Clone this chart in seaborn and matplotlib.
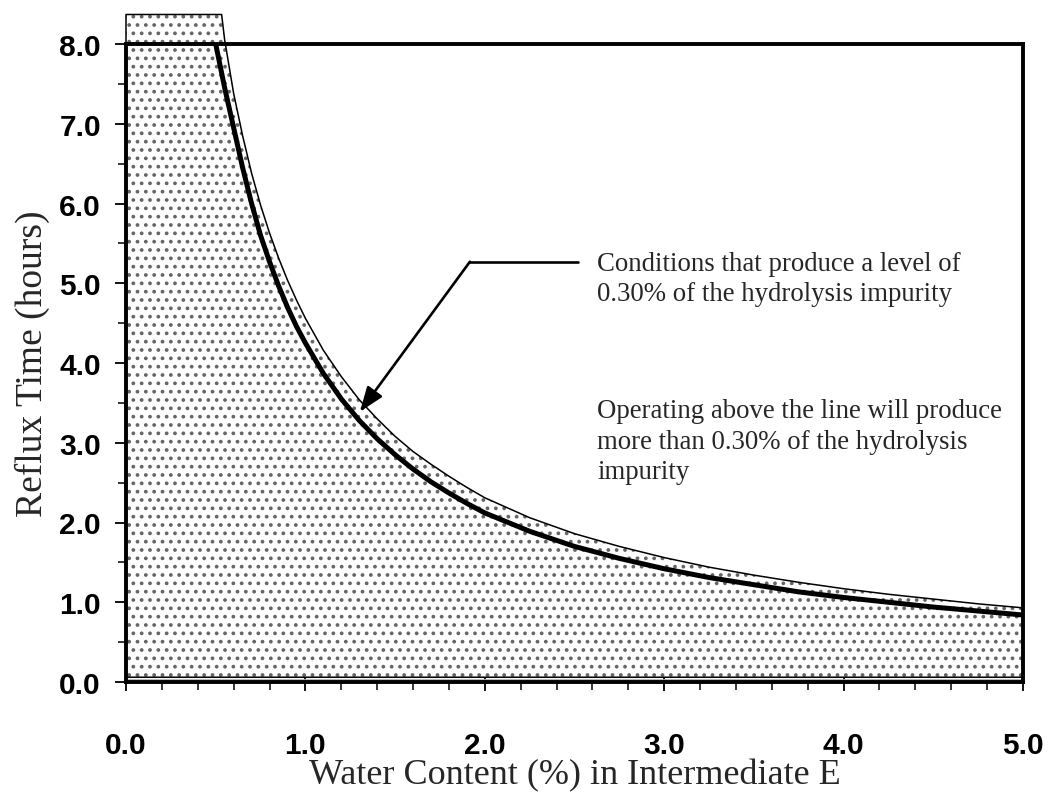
import numpy as np
import pandas as pd
import matplotlib
matplotlib.use("Agg")
import matplotlib.pyplot as plt
import seaborn as sns
from matplotlib.ticker import MultipleLocator, FormatStrFormatter

# ---- data ----
water_thick = [0.50, 0.55, 0.60, 0.65, 0.70, 0.75, 0.80, 0.85, 0.90, 0.95, 1.00,
               1.10, 1.20, 1.30, 1.40, 1.50, 1.60, 1.70, 1.80, 1.90, 2.00,
               2.25, 2.50, 2.75, 3.00, 3.25, 3.50, 3.75, 4.00, 4.25, 4.50, 4.75, 5.00]
time_thick = [8.00, 7.45, 6.95, 6.45, 6.00, 5.60, 5.27, 4.97, 4.70, 4.46, 4.25,
              3.87, 3.55, 3.28, 3.05, 2.85, 2.67, 2.51, 2.37, 2.24, 2.12,
              1.89, 1.70, 1.55, 1.42, 1.31, 1.22, 1.13, 1.06, 1.00, 0.94, 0.89, 0.84]

water_thin = [0.533, 0.55, 0.60, 0.65, 0.70, 0.75, 0.80, 0.85, 0.90, 0.95, 1.00,
              1.10, 1.20, 1.30, 1.40, 1.50, 1.60, 1.70, 1.80, 1.90, 2.00,
              2.25, 2.50, 2.75, 3.00, 3.25, 3.50, 3.75, 4.00, 4.25, 4.50, 4.75, 5.00]
time_thin = [8.37, 8.05, 7.38, 6.85, 6.38, 5.98, 5.63, 5.32, 5.04, 4.79, 4.56,
             4.16, 3.83, 3.54, 3.30, 3.08, 2.89, 2.73, 2.58, 2.44, 2.31,
             2.06, 1.86, 1.70, 1.56, 1.44, 1.34, 1.25, 1.17, 1.10, 1.04, 0.98, 0.93]

region_left_x = 0.0
region_top_y = 8.37
region_bottom_y = 0.06

x_ticks = [0.0, 1.0, 2.0, 3.0, 4.0, 5.0]
y_ticks = [0.0, 1.0, 2.0, 3.0, 4.0, 5.0, 6.0, 7.0, 8.0]

label_text_1 = "Conditions that produce a level of\n0.30% of the hydrolysis impurity"
label_text_2 = "Operating above the line will produce\nmore than 0.30% of the hydrolysis\nimpurity"
arrow_path_x = [2.52, 1.917]
arrow_path_y = [5.27, 5.27]
arrow_tip = (1.304, 3.39)

# ---- styling ----
sns.set_style("ticks")
plt.rcParams['font.family'] = ['Liberation Sans', 'DejaVu Sans']
plt.rcParams['hatch.linewidth'] = 1.5

fig = plt.figure(figsize=(10.48, 8.03), dpi=100)
ax = fig.add_axes([126 / 1048, (803 - 683) / 803, (1023 - 126) / 1048, (683 - 45) / 803])

# shaded (dotted) region
poly_x = [region_left_x, region_left_x] + water_thin + [water_thin[-1]]
poly_y = [region_bottom_y, region_top_y] + time_thin + [region_bottom_y]
ax.fill(poly_x, poly_y, facecolor='white', edgecolor='#666666', hatch='..',
        linewidth=0, clip_on=False, zorder=1)
ax.plot(poly_x + [poly_x[0]], poly_y + [poly_y[0]], color='black', lw=1.1,
        clip_on=False, zorder=2)
ax.axhline(0.03, color='#b0b0b0', lw=2.0, zorder=2)

# main thick curve
df = pd.DataFrame({'water': water_thick, 'time': time_thick})
sns.lineplot(data=df, x='water', y='time', ax=ax, color='black', lw=3.6,
             sort=False, estimator=None, zorder=3)

# annotation arrow
ax.plot(arrow_path_x, arrow_path_y, color='black', lw=1.9, zorder=4)
ax.annotate('', xy=arrow_tip, xytext=(arrow_path_x[-1], arrow_path_y[-1]),
            arrowprops=dict(arrowstyle='-|>,head_length=0.75,head_width=0.28',
                            mutation_scale=20, lw=1.9, color='black',
                            shrinkA=0, shrinkB=0),
            zorder=4)

serif = ['Liberation Serif', 'DejaVu Serif']
ax.text(2.625, 5.41, label_text_1, family=serif, fontsize=19.3, va='top', ha='left',
        linespacing=1.3)
ax.text(2.625, 3.56, label_text_2, family=serif, fontsize=19.3, va='top', ha='left',
        linespacing=1.3)

ax.set_xlim(0, 5)
ax.set_ylim(0, 8)
ax.set_xticks(x_ticks)
ax.set_yticks(y_ticks)
ax.xaxis.set_minor_locator(MultipleLocator(0.2))
ax.yaxis.set_minor_locator(MultipleLocator(0.5))
ax.xaxis.set_major_formatter(FormatStrFormatter('%.1f'))
ax.yaxis.set_major_formatter(FormatStrFormatter('%.1f'))

for s in ax.spines.values():
    s.set_linewidth(2.8)
    s.set_color('black')
    s.set_zorder(5)

ax.tick_params(axis='x', which='major', direction='inout', length=13, width=1.3,
               pad=29, labelsize=21.5, colors='black')
ax.tick_params(axis='x', which='minor', direction='out', length=6, width=1.3)
ax.tick_params(axis='y', which='major', direction='out', length=8, width=1.3,
               pad=10, labelsize=21.5, colors='black')
ax.tick_params(axis='y', which='minor', direction='out', length=6, width=1.3)
for lbl in ax.get_xticklabels() + ax.get_yticklabels():
    lbl.set_fontweight('bold')

ax.set_xlabel('Water Content (%) in Intermediate E', family=serif, fontsize=26)
ax.set_ylabel('Reflux Time (hours)', family=serif, fontsize=27)
ax.xaxis.label.set_va('center')
ax.xaxis.set_label_coords(0.5, -0.146)
ax.yaxis.set_label_coords(-0.085, 0.5)

fig.savefig('out.png', dpi=100)
